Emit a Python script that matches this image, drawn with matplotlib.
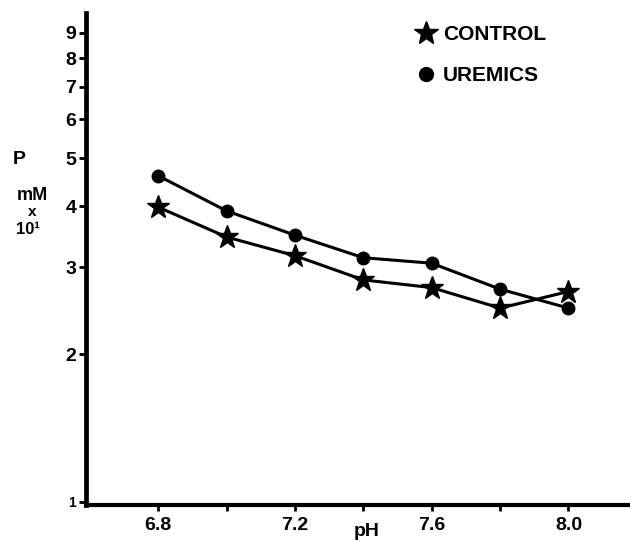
import matplotlib
matplotlib.use("Agg")
import matplotlib.pyplot as plt
from matplotlib.lines import Line2D
from matplotlib.ticker import FixedLocator, NullLocator

plt.rcParams['font.family'] = ['Liberation Sans', 'DejaVu Sans']
plt.rcParams['font.weight'] = 'bold'

ph = [6.8, 7.0, 7.2, 7.4, 7.6, 7.8, 8.0]
control = [3.98, 3.46, 3.17, 2.83, 2.73, 2.48, 2.68]
uremics = [4.61, 3.91, 3.49, 3.14, 3.06, 2.71, 2.48]

x_ticks = [6.8, 7.0, 7.2, 7.4, 7.6, 7.8, 8.0]
x_labels = ['6.8', '', '7.2', '', '7.6', '', '8.0']
y_ticks = [1, 2, 3, 4, 5, 6, 7, 8, 9]
y_labels = ['1', '2', '3', '4', '5', '6', '7', '8', '9']

fig = plt.figure(figsize=(6.3, 5.41), dpi=100)
ax = fig.add_axes([86/630, 1 - 505/541, 1 - 86/630, (505 - 13)/541])

ax.plot(ph, uremics, color='black', lw=2.2, marker='o', ms=9, zorder=3)
ax.plot(ph, control, color='black', lw=2.2, marker='*', ms=17, zorder=3)

ax.set_yscale('log')
ax.set_ylim(0.986, 9.88)
ax.set_xlim(6.589, 8.18)

ax.yaxis.set_major_locator(FixedLocator(y_ticks))
ax.yaxis.set_minor_locator(NullLocator())
ax.set_yticklabels(y_labels)
ax.set_xticks(x_ticks)
ax.set_xticklabels(x_labels)

for s in ['top', 'right']:
    ax.spines[s].set_visible(False)
ax.spines['left'].set_linewidth(3.4)
ax.spines['bottom'].set_linewidth(3.0)

ax.tick_params(axis='y', direction='out', length=5, width=2, pad=2, labelsize=14)
ax.tick_params(axis='x', direction='out', length=4, width=2, pad=5, labelsize=14)
for t in ax.get_yticklabels():
    t.set_fontweight('bold')
for t in ax.get_xticklabels():
    t.set_fontweight('bold')
ax.get_yticklabels()[0].set_fontsize(10)

handles = [
    Line2D([], [], color='black', marker='*', ms=18, ls='none', label='CONTROL'),
    Line2D([], [], color='black', marker='o', ms=10, ls='none', label='UREMICS'),
]
ax.legend(handles=handles, loc='upper left', bbox_to_anchor=(0.595, 0.992),
          frameon=False, prop={'weight': 'bold', 'size': 15}, handlelength=0.8,
          handletextpad=0.4, labelspacing=1.05, borderaxespad=0)

fig.text(19/630, 1 - 160/541, 'P', ha='center', va='center', fontsize=14, fontweight='bold')
fig.text(32/630, 1 - 195/541, 'mM', ha='center', va='center', fontsize=13, fontweight='bold')
fig.text(32/630, 1 - 212/541, 'x', ha='center', va='center', fontsize=11, fontweight='bold')
fig.text(28/630, 1 - 229/541, '10¹', ha='center', va='center', fontsize=12, fontweight='bold')
fig.text(367/630, 1 - 531/541, 'pH', ha='center', va='center', fontsize=14, fontweight='bold')

fig.savefig('out.png', dpi=100)
